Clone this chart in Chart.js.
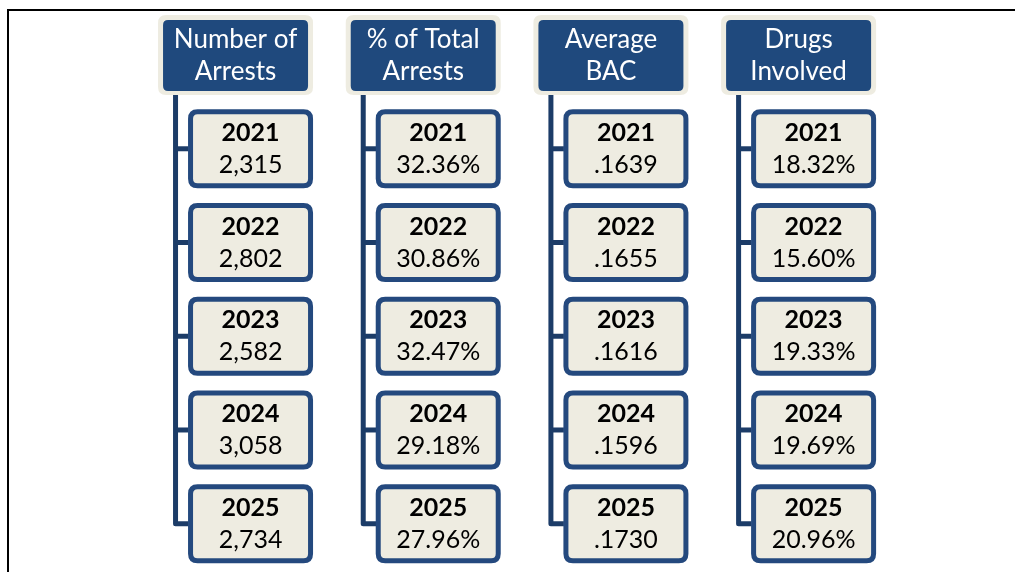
<!DOCTYPE html>
<html>
<head>
<meta charset="utf-8">
<script src="https://cdn.jsdelivr.net/npm/chart.js@4.4.1/dist/chart.umd.min.js"></script>
<style>
  html, body { margin: 0; padding: 0; background: #fff; }
  canvas { display: block; }
</style>
</head>
<body>
<canvas id="tree" width="1015" height="572"></canvas>
<script>
// header labels (one entry per column, split into lines)
const metrics = [["Number of", "Arrests"], ["% of Total", "Arrests"], ["Average", "BAC"], ["Drugs", "Involved"]];
const years = ["2021", "2022", "2023", "2024", "2025"];

const arrests = [2315, 2802, 2582, 3058, 2734];
const pctTotal = [32.36, 30.86, 32.47, 29.18, 27.96];
const avgBac = [0.1639, 0.1655, 0.1616, 0.1596, 0.1730];
const drugsPct = [18.32, 15.60, 19.33, 19.69, 20.96];

const series = [arrests, pctTotal, avgBac, drugsPct];
const formats = [
    v => v.toLocaleString("en-US"),
    v => v.toFixed(2) + "%",
    v => v.toFixed(4).replace(/^0/, ""),
    v => v.toFixed(2) + "%"
];

const NAVY = "#1f497d";
const LINE = "#1c3c68";
const CREAM = "#eeece1";
const FONT = "Lato, 'Open Sans', sans-serif";

function roundRect(ctx, x, y, w, h, r) {
    ctx.beginPath();
    ctx.moveTo(x + r, y);
    ctx.lineTo(x + w - r, y);
    ctx.quadraticCurveTo(x + w, y, x + w, y + r);
    ctx.lineTo(x + w, y + h - r);
    ctx.quadraticCurveTo(x + w, y + h, x + w - r, y + h);
    ctx.lineTo(x + r, y + h);
    ctx.quadraticCurveTo(x, y + h, x, y + h - r);
    ctx.lineTo(x, y + r);
    ctx.quadraticCurveTo(x, y, x + r, y);
    ctx.closePath();
}

// datasets: row 0 is the header, rows 1..5 the yearly values
const datasets = metrics.map((m, c) => ({
    label: m.join(" "),
    data: [{ x: c, y: 0 }].concat(years.map((yr, i) => ({ x: c, y: i + 1 }))),
    pointRadius: 0
}));

const treePlugin = {
    id: "tree",
    afterDatasetsDraw(chart) {
        const ctx = chart.ctx;
        ctx.save();

        // outer frame (top and left)
        ctx.fillStyle = "#000";
        ctx.fillRect(7, 9, 1008, 2);
        ctx.fillRect(7, 9, 2, 563);

        chart.data.datasets.forEach((ds, c) => {
            const pts = chart.getDatasetMeta(c).data;
            const head = pts[0];
            const lineX = head.x - 60;

            // connector
            ctx.strokeStyle = LINE;
            ctx.lineWidth = 5;
            ctx.lineJoin = "round";
            ctx.beginPath();
            ctx.moveTo(lineX, head.y + 36);
            const last = pts[pts.length - 1];
            ctx.lineTo(lineX, last.y);
            ctx.lineTo(last.x + 15 - 62, last.y);
            ctx.stroke();
            for (let i = 1; i < pts.length - 1; i++) {
                ctx.beginPath();
                ctx.moveTo(lineX, pts[i].y);
                ctx.lineTo(pts[i].x + 15 - 62, pts[i].y);
                ctx.stroke();
            }

            // header box
            ctx.fillStyle = CREAM;
            roundRect(ctx, head.x - 77.5, head.y - 40, 155, 80, 8);
            ctx.fill();
            ctx.fillStyle = NAVY;
            roundRect(ctx, head.x - 72.5, head.y - 35, 145, 71, 5);
            ctx.fill();
            ctx.fillStyle = "#fff";
            ctx.font = "26px " + FONT;
            ctx.textAlign = "center";
            ctx.textBaseline = "middle";
            metrics[c].forEach((t, k) => ctx.fillText(t, head.x, head.y - 15 + k * 32));

            // yearly boxes
            for (let i = 1; i < pts.length; i++) {
                const p = pts[i];
                const cx = p.x + 15;
                roundRect(ctx, cx - 60, p.y - 37, 120, 74, 7);
                ctx.fillStyle = CREAM;
                ctx.fill();
                ctx.strokeStyle = "#24497e";
                ctx.lineWidth = 5;
                ctx.stroke();
                ctx.fillStyle = "#000";
                ctx.font = "bold 25px " + FONT;
                ctx.fillText(years[i - 1], cx, p.y - 16);
                ctx.font = "25px " + FONT;
                ctx.fillText(formats[c](series[c][i - 1]), cx, p.y + 16);
            }
        });
        ctx.restore();
    }
};

new Chart(document.getElementById("tree"), {
    type: "scatter",
    data: { datasets: datasets },
    options: {
        responsive: false,
        animation: false,
        layout: { padding: 0 },
        plugins: { legend: { display: false }, tooltip: { enabled: false } },
        scales: {
            x: { type: "linear", display: false, min: -1.255, max: 4.153 },
            y: { type: "linear", display: false, reverse: true, min: -0.587, max: 5.515 }
        }
    },
    plugins: [treePlugin]
});
</script>
</body>
</html>
